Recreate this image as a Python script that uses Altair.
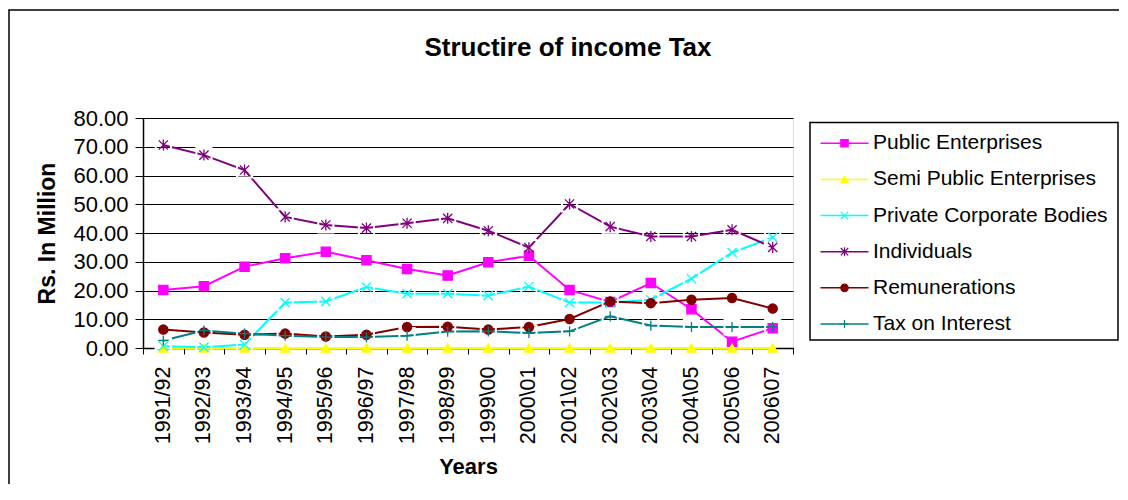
import altair as alt
import pandas as pd

# ---------------- data ----------------
years = ["1991/92", "1992/93", "1993/94", "1994/95", "1995/96", "1996/97",
         "1997/98", "1998/99", "1999\\00", "2000\\01", "2001\\02", "2002\\03",
         "2003\\04", "2004\\05", "2005\\06", "2006\\07"]

series_names = ["Public Enterprises", "Semi Public Enterprises",
                "Private Corporate Bodies", "Individuals",
                "Remunerations", "Tax on Interest"]

public_enterprises = [20.2, 21.5, 28.3, 31.2, 33.5, 30.5, 27.5, 25.2,
                      29.8, 32.1, 20.2, 16.0, 22.6, 13.5, 2.2, 6.9]
semi_public = [0.0, 0.0, 0.0, 0.0, 0.0, 0.0, 0.0, 0.0,
               0.0, 0.0, 0.0, 0.0, 0.0, 0.0, 0.0, 0.0]
private_corporate = [0.6, 0.3, 1.2, 15.8, 16.2, 21.2, 18.9, 18.9,
                     18.2, 21.4, 15.8, 15.8, 16.8, 24.1, 33.2, 38.5]
individuals = [70.6, 67.1, 61.9, 45.6, 42.8, 41.7, 43.4, 45.1,
               40.8, 34.9, 50.1, 42.2, 38.8, 38.8, 41.1, 35.0]
remunerations = [6.4, 5.4, 4.6, 5.0, 4.0, 4.6, 7.3, 7.4,
                 6.4, 7.3, 10.1, 16.2, 15.6, 16.8, 17.4, 13.7]
tax_on_interest = [2.6, 6.1, 5.0, 4.3, 3.8, 3.8, 4.3, 5.7,
                   5.8, 5.2, 5.8, 11.0, 7.8, 7.3, 7.3, 7.3]

colors = ["#FF00FF", "#FFFF00", "#00FFFF", "#800080", "#800000", "#008080"]
shapes = ["square", "triangle-up",
          "M-1,-1L1,1M-1,1L1,-1",
          "M-1,-1L1,1M-1,1L1,-1M0,-1.2L0,1.2",
          "circle",
          "M-1.1,0L1.1,0M0,-1.1L0,1.1"]
boxed = ["Private Corporate Bodies", "Individuals", "Tax on Interest"]

all_values = [public_enterprises, semi_public, private_corporate,
              individuals, remunerations, tax_on_interest]
rows = []
for name, vals in zip(series_names, all_values):
    for yr, v in zip(years, vals):
        rows.append({"year": yr, "series": name, "value": v})
df = pd.DataFrame(rows)
df_boxed = df[df["series"].isin(boxed)].reset_index(drop=True)
legend_df = pd.DataFrame({"series": series_names})
one = pd.DataFrame({"k": [0]})

FONT = "Liberation Sans"

color_scale = alt.Scale(domain=series_names, range=colors)
shape_scale = alt.Scale(domain=series_names, range=shapes)

x_enc = alt.X(
    "year:N",
    scale=alt.Scale(type="band", domain=years, paddingInner=0, paddingOuter=0),
    axis=alt.Axis(labelAngle=270, labelAlign="right", labelBaseline="middle",
                  labelFontSize=21.5, labelFont=FONT, labelColor="black",
                  labelPadding=12, labelOverlap=False,
                  tickSize=6, tickColor="black", tickWidth=1, tickBand="extent",
                  domainColor="black", domainWidth=1.5, grid=False,
                  titleFontSize=22, titleFont=FONT, titleFontWeight="bold",
                  titleColor="black", titlePadding=13),
    title="Years",
)
y_enc = alt.Y(
    "value:Q",
    scale=alt.Scale(domain=[0, 80], nice=False, zero=True),
    axis=alt.Axis(values=list(range(0, 81, 10)), format=".2f",
                  labelFontSize=22, labelFont=FONT, labelColor="black",
                  labelPadding=7, tickSize=8, tickColor="black",
                  domainColor="black", domainWidth=1.5,
                  grid=True, gridColor="black", gridWidth=1.2,
                  titleFontSize=23, titleFont=FONT, titleFontWeight="bold",
                  titleColor="black", titlePadding=13),
    title="Rs. In Million",
)

lines = alt.Chart(df).mark_line(strokeWidth=2).encode(
    x=x_enc, y=y_enc,
    color=alt.Color("series:N", scale=color_scale, legend=None),
)
boxes = alt.Chart(df_boxed).mark_square(
    filled=False, fill="transparent", stroke="#FFFFFF", strokeWidth=2,
    opacity=1, strokeOpacity=1, size=230
).encode(x=x_enc, y=y_enc)
markers = alt.Chart(df).mark_point(filled=True, size=85, strokeWidth=1.3,
                                   opacity=1).encode(
    x=x_enc, y=y_enc,
    color=alt.Color("series:N", scale=color_scale, legend=None),
    stroke=alt.Stroke("series:N", scale=color_scale, legend=None),
    shape=alt.Shape("series:N", scale=shape_scale, legend=None),
)
main = alt.layer(lines, boxes, markers)

# ---------------- legend (drawn box) ----------------
legend_y = alt.Y("series:N",
                 scale=alt.Scale(type="point", domain=series_names,
                                 range=[25.3, 206.0], padding=0),
                 axis=None)
leg_box = alt.Chart(one).mark_rect(fill="white", stroke="black",
                                   strokeWidth=1.5).encode(
    x=alt.value(667), x2=alt.value(975), y=alt.value(4.5), y2=alt.value(222))
leg_lines = alt.Chart(legend_df).mark_rule(strokeWidth=1.5).encode(
    x=alt.value(677.5), x2=alt.value(725.5), y=legend_y,
    color=alt.Color("series:N", scale=color_scale, legend=None))
leg_marks = alt.Chart(legend_df).mark_point(filled=True, size=55,
                                            strokeWidth=1.2, opacity=1).encode(
    x=alt.value(701.5), y=legend_y,
    color=alt.Color("series:N", scale=color_scale, legend=None),
    stroke=alt.Stroke("series:N", scale=color_scale, legend=None),
    shape=alt.Shape("series:N", scale=shape_scale, legend=None))
leg_text = alt.Chart(legend_df).mark_text(align="left", baseline="middle",
                                          fontSize=21, font=FONT,
                                          color="black").encode(
    x=alt.value(730), y=legend_y, text="series:N")
legend = alt.layer(leg_box, leg_lines, leg_marks, leg_text)

border = alt.Chart(one).mark_rect(fill="transparent", stroke="black",
                                  strokeWidth=1.5).encode(
    x=alt.value(-134), x2=alt.value(1200), y=alt.value(-108), y2=alt.value(600))

chart = alt.layer(border, main, legend).resolve_scale(
    y="independent"
).properties(
    width=650, height=230,
    autosize=alt.AutoSizeParams(type="none"),
    padding={"left": 135, "top": 110, "right": 326, "bottom": 136},
    title=alt.TitleParams(text="Structire of income Tax", fontSize=26,
                          font=FONT, fontWeight="bold", color="black",
                          anchor="middle", frame="group", dx=100,
                          offset=0, dy=52),
).configure_view(
    fill="#C0C0C0", stroke="#808080", strokeWidth=2
).configure(background="white")

chart.save("out.html", embed_options={"renderer": "svg", "actions": False})
